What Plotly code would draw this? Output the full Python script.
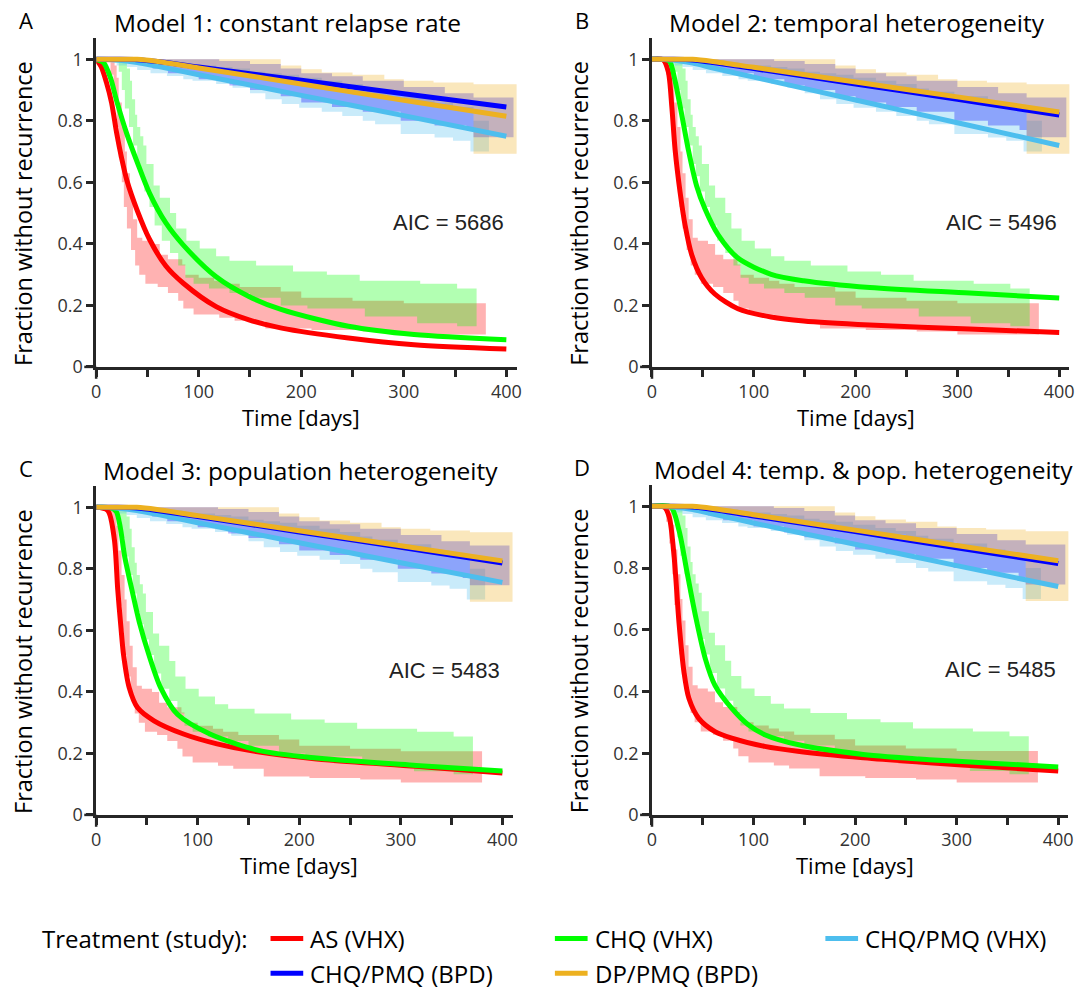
import plotly.graph_objects as go

W, H = 1087, 997

# ---------------- data ----------------
treatments = ["AS (VHX)", "CHQ (VHX)", "CHQ/PMQ (VHX)", "CHQ/PMQ (BPD)", "DP/PMQ (BPD)"]
line_colors = ["rgb(255,0,0)", "rgb(0,255,0)", "rgb(77,190,238)", "rgb(0,0,255)", "rgb(237,177,32)"]
band_colors = ["rgba(255,0,0,0.3)", "rgba(0,255,0,0.3)", "rgba(77,190,238,0.3)", "rgba(0,0,255,0.3)", "rgba(237,177,32,0.3)"]

# Kaplan-Meier confidence bands (step functions), same data in all panels
as_lo_t = [0, 10, 14, 17, 20, 22, 25, 27, 30, 34, 38, 42, 48, 60, 70, 80, 85, 95, 120, 135, 165, 210, 260, 300, 380]
as_lo   = [1, 0.99, 0.95, 0.88, 0.78, 0.68, 0.6, 0.52, 0.45, 0.38, 0.33, 0.30, 0.27, 0.26, 0.24, 0.215, 0.19, 0.17, 0.16, 0.15, 0.125, 0.12, 0.115, 0.105, 0.105]
as_hi_t = [0, 15, 18, 20, 22, 25, 28, 30, 33, 36, 40, 45, 55, 62, 70, 84, 87, 100, 115, 125, 140, 180, 200, 250, 300, 380]
as_hi   = [1, 1, 0.98, 0.94, 0.86, 0.78, 0.7, 0.63, 0.55, 0.48, 0.42, 0.41, 0.40, 0.365, 0.35, 0.333, 0.30, 0.29, 0.28, 0.27, 0.26, 0.245, 0.225, 0.215, 0.207, 0.207]

chq_lo_t = [0, 18, 22, 25, 28, 32, 36, 40, 43, 47, 52, 57, 64, 72, 80, 87, 95, 110, 130, 150, 180, 206, 262, 313, 352, 371]
chq_lo   = [1, 0.99, 0.96, 0.9, 0.84, 0.78, 0.72, 0.66, 0.62, 0.57, 0.52, 0.46, 0.41, 0.37, 0.33, 0.29, 0.27, 0.255, 0.24, 0.225, 0.2, 0.19, 0.164, 0.142, 0.132, 0.132]
chq_hi_t = [0, 28, 30, 33, 35, 38, 40, 43, 46, 49, 56, 62, 72, 78, 88, 101, 117, 130, 156, 192, 225, 257, 316, 352, 371]
chq_hi   = [1, 1, 0.97, 0.93, 0.87, 0.82, 0.78, 0.75, 0.72, 0.66, 0.59, 0.55, 0.50, 0.45, 0.41, 0.385, 0.36, 0.345, 0.33, 0.31, 0.30, 0.28, 0.27, 0.255, 0.255]

cpv_lo_t = [0, 15, 20, 30, 40, 53, 69, 85, 94, 117, 133, 150, 165, 181, 198, 220, 240, 260, 272, 297, 330, 348, 365, 383]
cpv_lo   = [1, 0.99, 0.98, 0.975, 0.965, 0.955, 0.946, 0.935, 0.93, 0.92, 0.908, 0.89, 0.87, 0.855, 0.843, 0.83, 0.816, 0.80, 0.789, 0.757, 0.746, 0.735, 0.70, 0.70]
cpv_hi_t = [0, 40, 53, 69, 85, 94, 117, 133, 150, 165, 181, 198, 220, 240, 260, 272, 297, 330, 348, 368, 383]
cpv_hi   = [1, 0.995, 0.993, 0.99, 0.985, 0.98, 0.975, 0.97, 0.96, 0.955, 0.95, 0.94, 0.93, 0.92, 0.905, 0.895, 0.88, 0.86, 0.845, 0.80, 0.80]

cpb_lo_t = [0, 40, 45, 55, 70, 100, 130, 150, 180, 200, 230, 260, 297, 330, 361, 368, 407]
cpb_lo   = [1, 1, 0.985, 0.97, 0.955, 0.935, 0.915, 0.9, 0.88, 0.86, 0.845, 0.83, 0.80, 0.785, 0.77, 0.747, 0.747]
cpb_hi_t = [0, 100, 120, 150, 180, 200, 230, 260, 300, 340, 368, 407]
cpb_hi   = [1, 1, 0.995, 0.985, 0.97, 0.955, 0.945, 0.93, 0.91, 0.89, 0.876, 0.876]

dpb_lo_t = [0, 50, 60, 80, 100, 130, 150, 180, 200, 250, 300, 340, 368, 411]
dpb_lo   = [1, 1, 0.985, 0.975, 0.965, 0.95, 0.94, 0.925, 0.91, 0.885, 0.86, 0.84, 0.693, 0.693]
dpb_hi_t = [0, 150, 180, 200, 220, 250, 281, 300, 329, 368, 411]
dpb_hi   = [1, 1, 0.98, 0.968, 0.957, 0.95, 0.935, 0.93, 0.925, 0.919, 0.919]

bands = [(as_lo_t, as_lo, as_hi_t, as_hi), (chq_lo_t, chq_lo, chq_hi_t, chq_hi),
         (cpv_lo_t, cpv_lo, cpv_hi_t, cpv_hi), (cpb_lo_t, cpb_lo, cpb_hi_t, cpb_hi),
         (dpb_lo_t, dpb_lo, dpb_hi_t, dpb_hi)]

# Model fits
m1_as_t = [0, 5, 10, 15, 20, 25, 30, 40, 52, 68, 85, 117, 149, 181, 246, 310, 400]
m1_as_v = [1, 0.975, 0.925, 0.86, 0.76, 0.676, 0.606, 0.509, 0.415, 0.328, 0.272, 0.196, 0.153, 0.126, 0.094, 0.072, 0.058]
m1_chq_t = [0, 7, 14, 20, 30, 40, 52, 68, 85, 117, 149, 181, 246, 310, 400]
m1_chq_v = [1, 0.99, 0.94, 0.865, 0.757, 0.666, 0.565, 0.468, 0.396, 0.293, 0.229, 0.186, 0.132, 0.105, 0.088]

m2_as_t = [0, 11, 16, 19.5, 22.7, 27.6, 32.5, 39, 48.7, 61.7, 84.4, 117, 149, 214, 312, 400]
m2_as_v = [1, 0.998, 0.96, 0.845, 0.706, 0.568, 0.461, 0.365, 0.29, 0.237, 0.189, 0.162, 0.149, 0.136, 0.123, 0.112]
m2_chq_t = [0, 15, 18, 22.7, 29, 35.7, 43.8, 52, 65, 84.4, 117, 149, 214, 312, 400]
m2_chq_v = [1, 0.998, 0.99, 0.93, 0.824, 0.706, 0.589, 0.514, 0.429, 0.354, 0.301, 0.28, 0.258, 0.24, 0.224]

m3_as_t = [0, 11.4, 17.9, 21.2, 24.5, 27, 32.6, 40.7, 57, 86, 119, 152, 217, 315, 400]
m3_as_v = [1, 0.99, 0.896, 0.735, 0.606, 0.52, 0.413, 0.349, 0.306, 0.263, 0.231, 0.209, 0.182, 0.158, 0.136]
m3_chq_t = [0, 15, 20, 24, 28, 36, 42.4, 52, 63.6, 80, 112, 161, 217, 315, 400]
m3_chq_v = [1, 0.998, 0.985, 0.93, 0.842, 0.72, 0.628, 0.52, 0.413, 0.327, 0.263, 0.209, 0.185, 0.161, 0.143]

m4_as_t = [0, 12, 17, 21.8, 26.6, 31.5, 36.4, 46, 62, 78.6, 111, 143.5, 208, 273, 338, 400]
m4_as_v = [1, 0.998, 0.965, 0.837, 0.623, 0.463, 0.377, 0.313, 0.27, 0.249, 0.222, 0.206, 0.185, 0.169, 0.155, 0.142]
m4_chq_t = [0, 18.5, 26.6, 34.7, 42.9, 52.6, 62, 78.6, 94.8, 111, 143.5, 208, 273, 338, 400]
m4_chq_v = [1, 0.998, 0.922, 0.783, 0.644, 0.505, 0.42, 0.345, 0.292, 0.26, 0.228, 0.196, 0.179, 0.167, 0.155]

pmq_t = [0, 20, 40, 60, 100, 200, 300, 400]
m1_cpv = [1, 0.998, 0.99, 0.977, 0.95, 0.883, 0.817, 0.75]
m1_cpb = [1, 1, 0.999, 0.993, 0.975, 0.932, 0.888, 0.845]
m1_dpb = [1, 1, 1, 0.993, 0.972, 0.92, 0.867, 0.815]
m2_cpv = [1, 0.998, 0.988, 0.972, 0.942, 0.868, 0.794, 0.72]
m2_cpb = [1, 1, 0.998, 0.99, 0.97, 0.92, 0.87, 0.819]
m2_dpb = [1, 1, 1, 0.993, 0.974, 0.926, 0.878, 0.829]
m3_cpv = [1, 0.998, 0.99, 0.977, 0.95, 0.885, 0.82, 0.756]
m3_cpb = [1, 1, 0.998, 0.99, 0.97, 0.92, 0.87, 0.819]
m3_dpb = [1, 1, 1, 0.993, 0.973, 0.924, 0.875, 0.826]
m4_cpv = [1, 0.998, 0.99, 0.975, 0.946, 0.877, 0.808, 0.74]
m4_cpb = [1, 1, 0.998, 0.99, 0.969, 0.918, 0.866, 0.815]
m4_dpb = [1, 1, 1, 0.993, 0.973, 0.923, 0.873, 0.824]

titles = ["Model 1: constant relapse rate", "Model 2: temporal heterogeneity",
          "Model 3: population heterogeneity", "Model 4: temp. & pop. heterogeneity"]
letters = ["A", "B", "C", "D"]
aic = [5686, 5496, 5483, 5485]

models = [
    [(m1_as_t, m1_as_v), (m1_chq_t, m1_chq_v), (pmq_t, m1_cpv), (pmq_t, m1_cpb), (pmq_t, m1_dpb)],
    [(m2_as_t, m2_as_v), (m2_chq_t, m2_chq_v), (pmq_t, m2_cpv), (pmq_t, m2_cpb), (pmq_t, m2_dpb)],
    [(m3_as_t, m3_as_v), (m3_chq_t, m3_chq_v), (pmq_t, m3_cpv), (pmq_t, m3_cpb), (pmq_t, m3_dpb)],
    [(m4_as_t, m4_as_v), (m4_chq_t, m4_chq_v), (pmq_t, m4_cpv), (pmq_t, m4_cpb), (pmq_t, m4_dpb)],
]

x_ticks = [0, 50, 100, 150, 200, 250, 300, 350, 400]
x_ticktext = ["0", "", "100", "", "200", "", "300", "", "400"]
y_ticks = [0, 0.2, 0.4, 0.6, 0.8, 1]
y_ticktext = ["0", "0.2", "0.4", "0.6", "0.8", "1"]

# ---------------- layout geometry (pixels) ----------------
XMAX, YMAX = 410, 1.07
panels = [  # x0 px, x400 px, y(v=0) px, y(v=1) px
    (92, 506, 371, 60),
    (653, 1064, 371, 60),
    (92, 502, 824, 513),
    (653, 1063, 824, 512),
]
title_cx = [285, 860, 298, 866]

def fx(px):
    return px / W

def fy(py):
    return 1 - py / H

FONT = "Open Sans"
AXC = "#262626"

fig = go.Figure()
layout = dict(width=W, height=H, margin=dict(l=0, r=0, t=0, b=0), autosize=False,
              plot_bgcolor="white", paper_bgcolor="white", showlegend=False)
annotations = []
shapes = []

for i in range(4):
    x0, x4, yb, yt1 = panels[i]
    xr = x0 + (x4 - x0) * XMAX / 400
    ytop = yb - (yb - yt1) * YMAX
    xa = "xaxis" if i == 0 else f"xaxis{i+1}"
    ya = "yaxis" if i == 0 else f"yaxis{i+1}"
    xref = "x" if i == 0 else f"x{i+1}"
    yref = "y" if i == 0 else f"y{i+1}"
    layout[xa] = dict(domain=[fx(x0), fx(xr)], anchor=yref, range=[0, XMAX],
                      tickvals=x_ticks, ticktext=x_ticktext, ticks="outside", ticklen=7,
                      tickwidth=2.5, tickcolor=AXC, showline=True, linecolor=AXC, linewidth=2.5,
                      showgrid=False, zeroline=False,
                      tickfont=dict(family=FONT, size=18, color="#333333"))
    layout[ya] = dict(domain=[fy(yb), fy(ytop)], anchor=xref, range=[0, YMAX],
                      tickvals=y_ticks, ticktext=y_ticktext, ticks="outside", ticklen=7,
                      tickwidth=2.5, tickcolor=AXC, showline=True, linecolor=AXC, linewidth=2.5,
                      showgrid=False, zeroline=False,
                      tickfont=dict(family=FONT, size=18, color="#333333"))
    # bands
    for k, (lt, lv, ht, hv) in enumerate(bands):
        fig.add_trace(go.Scatter(x=lt, y=lv, mode="lines", line=dict(width=0, shape="hv"),
                                 hoverinfo="skip", xaxis=xref, yaxis=yref))
        fig.add_trace(go.Scatter(x=ht, y=hv, mode="lines", line=dict(width=0, shape="hv"),
                                 fill="tonexty", fillcolor=band_colors[k],
                                 hoverinfo="skip", xaxis=xref, yaxis=yref))
    # model lines
    for k, (mt, mv) in enumerate(models[i]):
        fig.add_trace(go.Scatter(x=mt, y=mv, mode="lines", name=treatments[k],
                                 line=dict(color=line_colors[k], width=5, shape="spline", smoothing=0.8),
                                 xaxis=xref, yaxis=yref))
    # axis extensions (crossing look)
    shapes.append(dict(type="line", xref="paper", yref="paper", x0=fx(x0 - 12), x1=fx(x0),
                       y0=fy(yb), y1=fy(yb), line=dict(color=AXC, width=2.5)))
    shapes.append(dict(type="line", xref="paper", yref="paper", x0=fx(x0), x1=fx(x0),
                       y0=fy(yb + 12), y1=fy(yb), line=dict(color=AXC, width=2.5)))
    # texts
    cx = (x0 + x4) / 2
    annotations.append(dict(text=titles[i], x=fx(title_cx[i]), y=fy(yt1 - 37), xref="paper", yref="paper",
                            showarrow=False, xanchor="center", yanchor="middle",
                            font=dict(family=FONT, size=24.5, color="black")))
    annotations.append(dict(text=letters[i], x=fx(x0 - 71), y=fy(yt1 - 40), xref="paper", yref="paper",
                            showarrow=False, xanchor="center", yanchor="middle",
                            font=dict(family=FONT, size=22, color="black")))
    annotations.append(dict(text="AIC = %d" % aic[i], x=400, y=0.47, xref=xref, yref=yref,
                            showarrow=False, xanchor="right", yanchor="middle",
                            font=dict(family="Liberation Sans", size=22, color="#222222")))
    annotations.append(dict(text="Time [days]", x=fx(cx), y=fy(yb + 51), xref="paper", yref="paper",
                            showarrow=False, xanchor="center", yanchor="middle",
                            font=dict(family=FONT, size=22, color="black")))
    annotations.append(dict(text="Fraction without recurrence", x=fx(x0 - 74), y=fy((yb + yt1) / 2),
                            xref="paper", yref="paper", textangle=-90,
                            showarrow=False, xanchor="center", yanchor="middle",
                            font=dict(family=FONT, size=23.5, color="black")))

# legend (manual)
annotations.append(dict(text="Treatment (study):", x=fx(35), y=fy(949), xref="paper", yref="paper",
                        showarrow=False, xanchor="left", yanchor="middle",
                        font=dict(family=FONT, size=24, color="black")))
leg_pos = [(268, 949), (555, 949), (828, 949), (268, 984), (555, 984)]
for k, (lx, ly) in enumerate(leg_pos):
    shapes.append(dict(type="line", xref="paper", yref="paper", x0=fx(lx), x1=fx(lx + 33),
                       y0=fy(ly), y1=fy(ly), line=dict(color=line_colors[k], width=5)))
    annotations.append(dict(text=treatments[k], x=fx(lx + 38), y=fy(ly), xref="paper", yref="paper",
                            showarrow=False, xanchor="left", yanchor="middle",
                            font=dict(family=FONT, size=24, color="black")))

layout["annotations"] = annotations
layout["shapes"] = shapes
fig.update_layout(**layout)
fig.write_html("out.html", config={"displayModeBar": False},
               post_script="document.body.style.margin='0';document.body.style.padding='0';"
                           "document.documentElement.style.overflow='hidden';")
